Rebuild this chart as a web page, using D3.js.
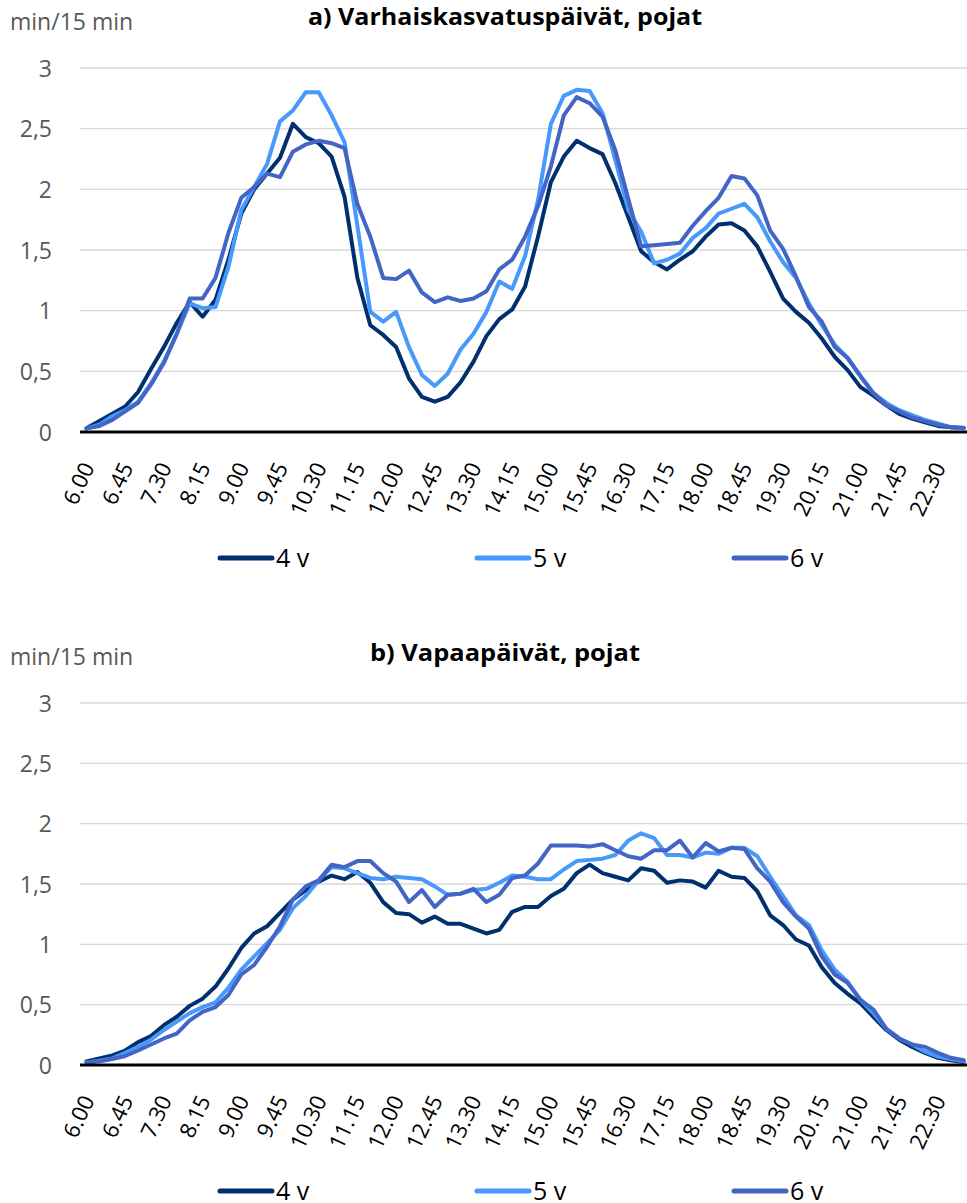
<!DOCTYPE html>
<html><head><meta charset="utf-8">
<script src="https://cdn.jsdelivr.net/npm/d3@7"></script>
<style>
html,body{margin:0;padding:0;background:#fff;}
svg{display:block;font-family:"Open Sans",sans-serif;}
</style></head>
<body>
<svg id="chart" width="967" height="1203"></svg>
<script>
const categories = ["6.00","6.15","6.30","6.45","7.00","7.15","7.30","7.45","8.00","8.15","8.30","8.45",
"9.00","9.15","9.30","9.45","10.00","10.15","10.30","10.45","11.00","11.15","11.30","11.45",
"12.00","12.15","12.30","12.45","13.00","13.15","13.30","13.45","14.00","14.15","14.30","14.45",
"15.00","15.15","15.30","15.45","16.00","16.15","16.30","16.45","17.00","17.15","17.30","17.45",
"18.00","18.15","18.30","18.45","19.00","19.15","19.30","19.45","20.00","20.15","20.30","20.45",
"21.00","21.15","21.30","21.45","22.00","22.15","22.30","22.45","23.00"];
const tickLabels = ["6.00","6.45","7.30","8.15","9.00","9.45","10.30","11.15","12.00","12.45","13.30","14.15",
"15.00","15.45","16.30","17.15","18.00","18.45","19.30","20.15","21.00","21.45","22.30"];
const yTicks = [0,0.5,1,1.5,2,2.5,3];
const seriesNames = ["4 v","5 v","6 v"];
const seriesColors = ["#00306E","#4799FB","#4366C6"];

const a4 = [0.03,0.09,0.15,0.21,0.33,0.52,0.70,0.90,1.07,0.95,1.09,1.42,1.80,2.00,2.13,2.26,2.54,2.43,2.38,2.27,
1.94,1.27,0.88,0.80,0.70,0.44,0.29,0.25,0.29,0.41,0.58,0.79,0.93,1.01,1.20,1.61,2.06,2.27,2.40,2.34,
2.29,2.05,1.77,1.49,1.40,1.34,1.42,1.49,1.61,1.71,1.72,1.66,1.53,1.32,1.10,0.99,0.90,0.77,0.62,0.51,
0.37,0.30,0.22,0.15,0.11,0.08,0.05,0.04,0.03];
const a5 = [0.03,0.06,0.13,0.18,0.25,0.40,0.58,0.81,1.06,1.02,1.03,1.36,1.83,2.02,2.21,2.56,2.65,2.80,2.80,2.61,
2.39,1.70,0.99,0.91,0.99,0.70,0.47,0.38,0.48,0.68,0.81,0.99,1.24,1.18,1.45,1.91,2.54,2.77,2.82,2.81,
2.63,2.24,1.83,1.65,1.39,1.42,1.47,1.60,1.68,1.80,1.84,1.88,1.77,1.57,1.40,1.27,1.06,0.88,0.72,0.61,
0.46,0.32,0.24,0.18,0.14,0.10,0.07,0.04,0.03];
const a6 = [0.03,0.05,0.10,0.17,0.24,0.39,0.57,0.81,1.10,1.10,1.27,1.64,1.93,2.02,2.13,2.10,2.31,2.37,2.40,2.38,
2.34,1.88,1.61,1.27,1.26,1.33,1.15,1.07,1.11,1.08,1.10,1.16,1.34,1.42,1.61,1.86,2.19,2.61,2.76,2.71,
2.60,2.32,1.92,1.53,1.54,1.55,1.56,1.70,1.82,1.93,2.11,2.09,1.95,1.66,1.51,1.28,1.03,0.91,0.70,0.61,
0.46,0.32,0.22,0.17,0.12,0.09,0.06,0.04,0.035];
const b4 = [0.03,0.055,0.08,0.12,0.19,0.24,0.33,0.40,0.49,0.55,0.65,0.80,0.97,1.09,1.15,1.26,1.37,1.45,1.52,1.57,
1.54,1.60,1.51,1.35,1.26,1.25,1.18,1.23,1.17,1.17,1.13,1.09,1.12,1.27,1.31,1.31,1.40,1.46,1.59,1.66,
1.59,1.56,1.53,1.63,1.61,1.51,1.53,1.52,1.47,1.61,1.56,1.55,1.44,1.24,1.16,1.04,0.99,0.81,0.68,0.59,
0.51,0.40,0.29,0.21,0.15,0.10,0.06,0.04,0.025];
const b5 = [0.02,0.035,0.055,0.10,0.15,0.21,0.29,0.36,0.43,0.48,0.52,0.64,0.79,0.90,1.01,1.12,1.30,1.40,1.53,1.64,
1.63,1.59,1.55,1.54,1.56,1.55,1.54,1.48,1.41,1.42,1.45,1.46,1.51,1.57,1.56,1.54,1.54,1.62,1.69,1.70,
1.71,1.74,1.86,1.92,1.88,1.74,1.74,1.72,1.76,1.75,1.80,1.80,1.73,1.56,1.40,1.24,1.16,0.95,0.79,0.69,
0.54,0.43,0.30,0.22,0.17,0.11,0.07,0.05,0.03];
const b6 = [0.02,0.03,0.05,0.075,0.12,0.17,0.22,0.26,0.37,0.44,0.48,0.58,0.75,0.83,0.98,1.15,1.37,1.48,1.53,1.66,
1.64,1.69,1.69,1.59,1.52,1.35,1.45,1.31,1.41,1.42,1.46,1.35,1.41,1.55,1.57,1.67,1.82,1.82,1.82,1.81,
1.83,1.78,1.73,1.71,1.78,1.78,1.86,1.72,1.84,1.77,1.80,1.79,1.63,1.52,1.35,1.23,1.13,0.90,0.75,0.68,
0.54,0.46,0.30,0.22,0.17,0.15,0.10,0.06,0.04];

const panels = [
  {title:"a) Varhaiskasvatuspäivät, pojat", titleW:394, series:[a4,a5,a6], top:68, zero:432, titleY:25, unitY:30, legendY:558},
  {title:"b) Vapaapäivät, pojat", titleW:270, series:[b4,b5,b6], top:703, zero:1065, titleY:661, unitY:665, legendY:1191}
];

const svg = d3.select("#chart");
svg.append("rect").attr("width",967).attr("height",1203).attr("fill","#fff");

const plotL = 80, plotR = 967;
const x = d3.scalePoint().domain(categories).range([86.5, 963.7]);
const legendX = [218, 475, 732];

panels.forEach(p => {
  const g = svg.append("g");
  const y = d3.scaleLinear().domain([0,3]).range([p.zero, p.top]);

  // gridlines
  g.append("g").selectAll("line").data(yTicks.filter(d=>d>0)).join("line")
    .attr("x1",plotL).attr("x2",plotR)
    .attr("y1",d=>y(d)).attr("y2",d=>y(d))
    .attr("stroke","#D9D9D9").attr("stroke-width",1.4);

  // y axis labels
  const ya = g.append("g").attr("transform",`translate(${plotL},0)`)
    .call(d3.axisLeft(y).tickValues(yTicks).tickSize(0).tickPadding(28)
      .tickFormat(d => String(d).replace(".", ",")));
  ya.select(".domain").remove();
  ya.selectAll("text").attr("font-family","'Open Sans',sans-serif").attr("font-size",23)
    .attr("fill","#595959").attr("dy","0.36em");

  // lines
  const line = d3.line().x((d,i)=>x(categories[i])).y(d=>y(d));
  p.series.forEach((s,k) => {
    g.append("path").datum(s).attr("d",line).attr("fill","none")
      .attr("stroke",seriesColors[k]).attr("stroke-width",4)
      .attr("stroke-linejoin","round").attr("stroke-linecap","round");
  });

  // x axis baseline
  g.append("line").attr("x1",plotL).attr("x2",plotR).attr("y1",y(0)).attr("y2",y(0))
    .attr("stroke","#000").attr("stroke-width",3);

  // x axis labels
  const xa = g.append("g").attr("transform",`translate(0,${y(0)})`)
    .call(d3.axisBottom(x).tickValues(tickLabels).tickSize(0));
  xa.select(".domain").remove();
  xa.selectAll("text").attr("font-family","'Open Sans',sans-serif").attr("font-size",22)
    .attr("fill","#000").attr("text-anchor","end")
    .attr("x",0).attr("y",0).attr("dy",0)
    .attr("transform","translate(8,35) rotate(-65)");

  // unit label
  g.append("text").attr("x",10).attr("y",p.unitY).text("min/15 min")
    .attr("font-size",23).attr("fill","#595959");

  // title
  g.append("text").attr("x",505).attr("y",p.titleY).attr("text-anchor","middle")
    .attr("font-size",23).attr("font-weight","bold").attr("fill","#000")
    .attr("textLength",p.titleW).attr("lengthAdjust","spacingAndGlyphs").text(p.title);

  // legend
  seriesNames.forEach((n,k) => {
    const lg = g.append("g").attr("transform",`translate(${legendX[k]},${p.legendY})`);
    lg.append("line").attr("x1",2).attr("x2",54).attr("y1",0).attr("y2",0)
      .attr("stroke",seriesColors[k]).attr("stroke-width",5).attr("stroke-linecap","round");
    lg.append("text").attr("x",58).attr("y",0).attr("dy","0.36em").text(n)
      .attr("font-size",25).attr("fill","#000");
  });
});
</script>
</body></html>
